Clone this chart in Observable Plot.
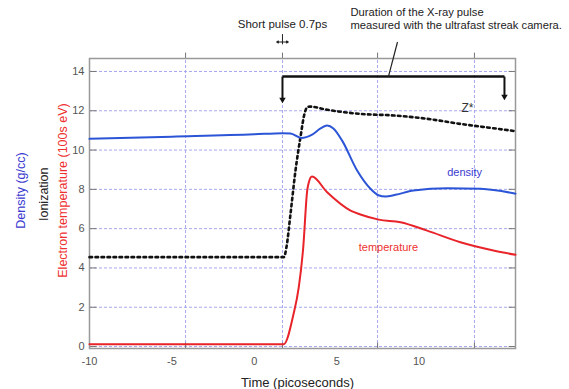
<!DOCTYPE html>
<html><head><meta charset="utf-8">
<script src="https://cdn.jsdelivr.net/npm/d3@7"></script>
<script src="https://cdn.jsdelivr.net/npm/@observablehq/plot@0.6"></script>
<style>
html,body{margin:0;padding:0;background:#fff;}
svg{display:block;}
</style></head>
<body><div id="chart"></div>
<script>
// Tick labels and grid positions
const timeTicks = [-10, -5, 0, 5, 10];
const gridTimes = [-4.17, 1.71, 7.48, 13.36];
const yTicks = [0, 2, 4, 6, 8, 10, 12, 14];

// Density (g/cc)
const densityTime = [-10, -5, 0, 1.71, 2.2, 2.85, 3.51, 4.02, 4.42, 4.8, 5.33, 6.24, 7.05, 7.53, 7.96, 8.57, 9.66, 11.7, 13.73, 15.73, 15.85];
const densityVal  = [10.57, 10.68, 10.8, 10.86, 10.84, 10.62, 10.79, 11.1, 11.25, 11.1, 10.48, 8.96, 8.03, 7.7, 7.63, 7.72, 7.94, 8.06, 8.03, 7.8, 7.78];

// Electron temperature (100s eV)
const tempTime = [-10, 1.79, 2.36, 2.70, 2.97, 3.21, 3.31, 3.5, 4.42, 5.84, 6.44, 7.55, 8.87, 10.49, 12.51, 14.51, 15.85];
const tempVal  = [0.12, 0.12, 1.58, 3.02, 5.05, 7.94, 8.36, 8.65, 7.85, 6.92, 6.72, 6.46, 6.33, 5.9, 5.31, 4.89, 4.67];

// Ionization Z*
const ionTime = [-10, 1.8, 1.95, 2.2, 2.5, 2.8, 3.05, 3.21, 3.37, 4.42, 6.44, 8.46, 10.49, 12.51, 14.51, 15.85];
const ionVal  = [4.55, 4.55, 5.05, 6.77, 8.96, 10.65, 11.86, 12.18, 12.21, 12.05, 11.84, 11.76, 11.59, 11.33, 11.11, 10.96];

// Annotation values
const pulseStart = 1.71, pulseWidth = 0.7;
const xrayStart = 1.71, xrayEnd = 15.18;

const density = densityTime.map((t, i) => ({t, v: densityVal[i]}));
const temp = tempTime.map((t, i) => ({t, v: tempVal[i]}));
const ion = ionTime.map((t, i) => ({t, v: ionVal[i]}));

const X0 = -10, X1 = 15.85, Y0 = -0.1, Y1 = 14.66;
const gridColor = "#a6a8ee";
const font = "Liberation Sans, Arial, sans-serif";

const chart = Plot.plot({
  width: 569, height: 389,
  marginLeft: 89, marginRight: 54, marginTop: 58, marginBottom: 41,
  style: {fontFamily: font, background: "#fff", overflow: "visible"},
  x: {domain: [X0, X1], ticks: timeTicks, label: null},
  y: {domain: [Y0, Y1], ticks: yTicks, label: null},
  marks: [
    // grid
    Plot.ruleY(yTicks, {stroke: gridColor, strokeWidth: 1, strokeDasharray: "3,2", x1: X0, x2: X1}),
    Plot.ruleX(gridTimes, {stroke: gridColor, strokeWidth: 1, strokeDasharray: "3,2", y1: Y0, y2: Y1}),
    // inward ticks
    Plot.link(yTicks, {x1: X0, x2: X0 + 0.42, y1: d => d, y2: d => d, stroke: "#777", strokeWidth: 1}),
    Plot.link(yTicks, {x1: X1, x2: X1 - 0.42, y1: d => d, y2: d => d, stroke: "#777", strokeWidth: 1}),
    Plot.link(gridTimes, {x1: d => d, x2: d => d, y1: Y0, y2: Y0 + 0.3, stroke: "#777", strokeWidth: 1}),
    Plot.link(gridTimes, {x1: d => d, x2: d => d, y1: Y1, y2: Y1 + 0.3, stroke: "#777", strokeWidth: 1}),
    Plot.frame({stroke: "#999", strokeWidth: 1.5}),
    // axes
    Plot.axisX(timeTicks, {tickSize: 0, tickPadding: 9, fontSize: 11, color: "#555", label: null, tickFormat: d => String(d)}),
    Plot.axisY(yTicks, {tickSize: 0, tickPadding: 5, fontSize: 11, color: "#555", label: null, tickFormat: d => String(d)}),
    Plot.text(["Time (picoseconds)"], {x: (X0 + X1) / 2 - 0.3, y: Y0, dy: 34, fontSize: 13, fill: "#222"}),
    Plot.text(["Density (g/cc)"], {x: X0, y: 7.94, dx: -69, rotate: -90, fontSize: 12.5, fill: "#3a3ad0"}),
    Plot.text(["Ionization"], {x: X0, y: 7.75, dx: -46, rotate: -90, fontSize: 12.5, fill: "#222"}),
    Plot.text(["Electron temperature (100s eV)"], {x: X0, y: 7.94, dx: -27, rotate: -90, fontSize: 12.5, fill: "#ee3030"}),
    // data
    Plot.line(ion, {x: "t", y: "v", curve: "monotone-x", stroke: "#111", strokeWidth: 2.6, strokeDasharray: "2.6,3.4"}),
    Plot.line(temp, {x: "t", y: "v", curve: "monotone-x", stroke: "#e8242a", strokeWidth: 2}),
    Plot.line(density, {x: "t", y: "v", curve: "monotone-x", stroke: "#2b55d6", strokeWidth: 2}),
    // series labels
    Plot.text(["Z*"], {x: 12.94, y: 12.11, fontSize: 12, fill: "#333"}),
    Plot.text(["density"], {x: 12.76, y: 8.87, fontSize: 11, fill: "#3a3ad0"}),
    Plot.text(["temperature"], {x: 8.14, y: 5.05, fontSize: 11, fill: "#ee3030"}),
    // X-ray pulse bracket
    Plot.link([0], {x1: xrayStart, x2: xrayEnd, y1: 13.74, y2: 13.74, stroke: "#111", strokeWidth: 2.5}),
    Plot.link([xrayStart, xrayEnd], {x1: d => d, x2: d => d, y1: 13.74, y2: (d, i) => i ? 12.72 : 12.57, stroke: "#111", strokeWidth: 2}),
    Plot.dot([xrayStart, xrayEnd], {x: d => d, y: (d, i) => i ? 12.72 : 12.57, symbol: "triangle", rotate: 180, r: 2.4, fill: "#111"}),
    Plot.link([0], {x1: 8.14, x2: 8.69, y1: 13.74, y2: 15.5, stroke: "#222", strokeWidth: 1.2}),
    Plot.text(["Duration of the X-ray pulse", "measured with the ultrafast streak camera."], {x: 5.84, y: (d, i) => i ? 16.33 : 17.0, textAnchor: "start", fontSize: 11.2, fill: "#222"}),
    // Short pulse marker
    Plot.text(["Short pulse 0.7ps"], {x: pulseStart, y: 16.42, fontSize: 11.5, fill: "#222"}),
    Plot.link([0], {x1: pulseStart, x2: pulseStart, y1: 15.9, y2: 15.38, stroke: "#222", strokeWidth: 1}),
    Plot.arrow([pulseStart - pulseWidth / 2, pulseStart + pulseWidth / 2], {x1: pulseStart, x2: d => d, y1: 15.5, y2: 15.5, stroke: "#222", strokeWidth: 1.2, headLength: 3})
  ]
});
document.getElementById("chart").appendChild(chart);
</script>
</body></html>
